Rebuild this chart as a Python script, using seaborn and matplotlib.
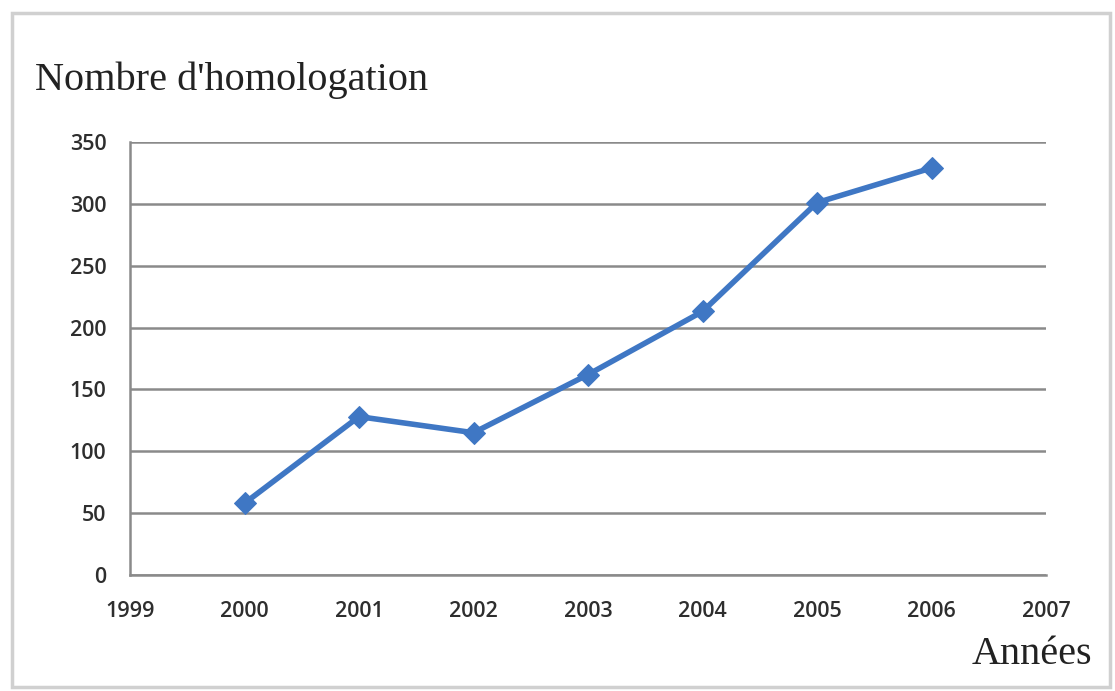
import matplotlib
matplotlib.use("Agg")
import matplotlib.pyplot as plt
import matplotlib.patches as mpatches
import numpy as np
import pandas as pd
import seaborn as sns

years = [2000, 2001, 2002, 2003, 2004, 2005, 2006]
homologations = [58, 128, 115, 162, 213, 301, 329]
x_ticks = [1999, 2000, 2001, 2002, 2003, 2004, 2005, 2006, 2007]
y_ticks = [0, 50, 100, 150, 200, 250, 300, 350]

df = pd.DataFrame({"annee": years, "nombre": homologations})

sns.set_style("white")
plt.rcParams["font.family"] = ["Open Sans", "DejaVu Sans"]

fig = plt.figure(figsize=(11.15, 6.91), dpi=100)
ax = fig.add_axes([130 / 1115, 1 - 575 / 691, 916 / 1115, 433 / 691])

sns.lineplot(data=df, x="annee", y="nombre", ax=ax, color="#3f77c4",
             linewidth=4, marker="D", markersize=11,
             markeredgecolor="#3f77c4", zorder=5)

ax.set_xlim(1999, 2007)
ax.set_ylim(0, 350)
ax.set_xticks(x_ticks)
ax.set_yticks(y_ticks)
ax.set_xticklabels([str(v) for v in x_ticks])
ax.grid(axis="y", color="#8a8a8a", linewidth=1.8)
ax.set_axisbelow(True)
for s in ["top", "right"]:
    ax.spines[s].set_visible(False)
for s in ["left", "bottom"]:
    ax.spines[s].set_color("#8a8a8a")
    ax.spines[s].set_linewidth(1.8)
ax.tick_params(axis="both", which="both", direction="out", length=8,
               width=1.5, color="#8a8a8a", labelsize=15.5, labelcolor="#2e2e2e")
ax.tick_params(axis="y", pad=9)
ax.tick_params(axis="x", pad=11)
for lbl in ax.get_xticklabels() + ax.get_yticklabels():
    lbl.set_fontweight("semibold")
ax.set_xlabel("")
ax.set_ylabel("")

fig.text(35 / 1115, 1 - 80 / 691, "Nombre d'homologation", ha="left",
         va="center", fontsize=29, family=["Liberation Serif"], color="#222222")
fig.text(1092 / 1115, 1 - 655 / 691, "Années", ha="right", va="center",
         fontsize=29, family=["Liberation Serif"], color="#222222")

# image frame
fig.add_artist(mpatches.Rectangle((12 / 1115, 4 / 691), 1098 / 1115, 674 / 691,
                                  transform=fig.transFigure, fill=False,
                                  edgecolor="#d0d0d0", linewidth=2.5))

fig.savefig("out.png", dpi=100)
